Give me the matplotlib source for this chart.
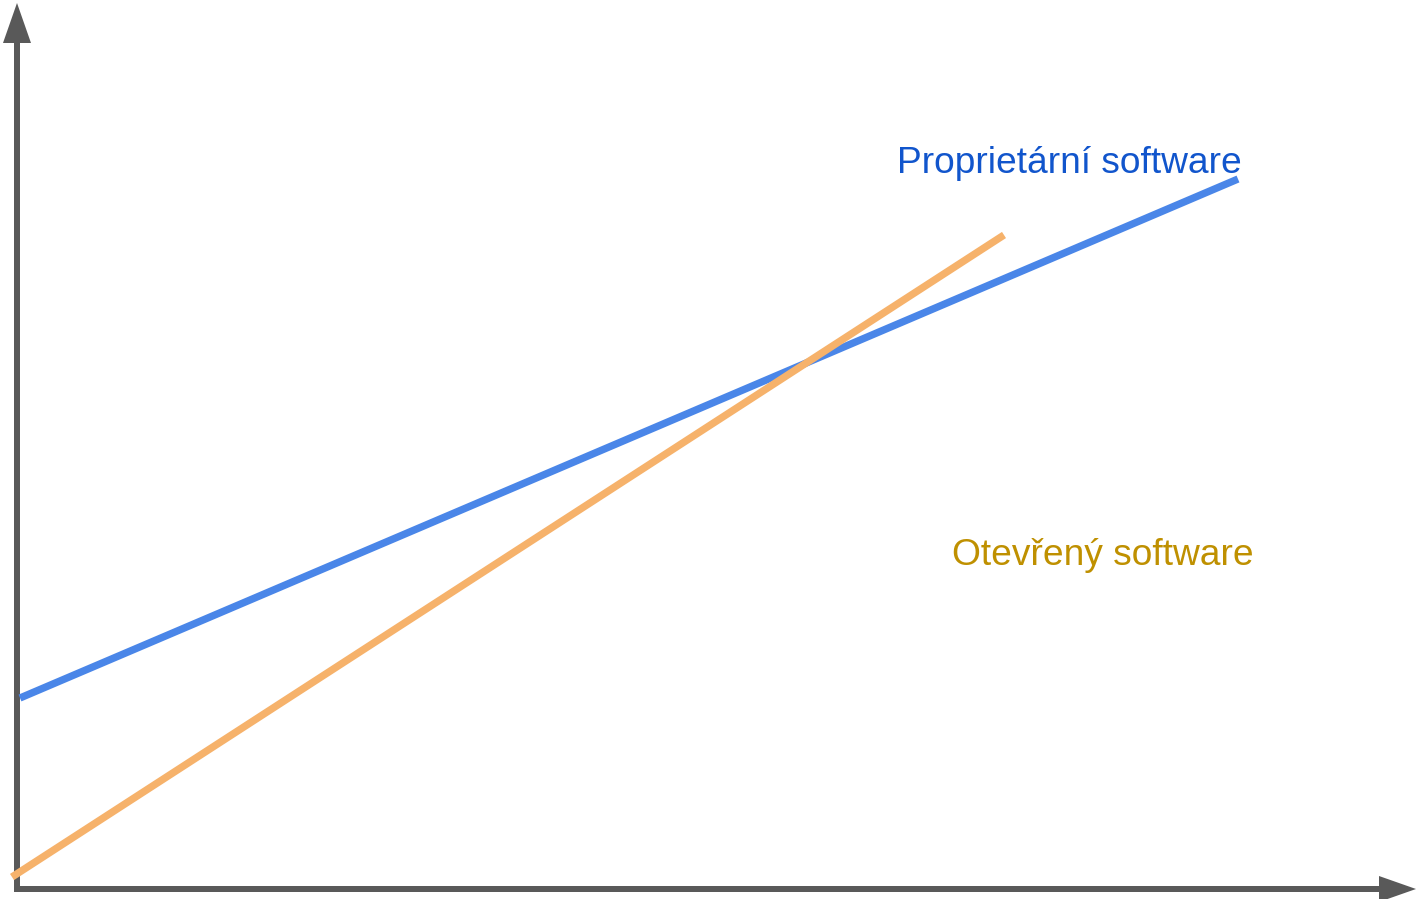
import matplotlib.pyplot as plt

# line endpoints (origin at the corner of the axes)
prop_x = [3, 1221]
prop_y = [191, 710]
open_x = [-5, 987]
open_y = [12, 654]

labels = ["Proprietární software", "Otevřený software"]
label_x = [880, 935]
label_y = [716, 324]

fig = plt.figure(figsize=(14.16, 8.99), dpi=100)
ax = fig.add_axes([0, 0, 1, 1])
ax.set_xlim(-17, 1399)
ax.set_ylim(-10, 889)
ax.axis("off")

gray = "#595959"
# axes with arrows
ax.arrow(0, -3, 0, 889, width=6, head_width=28, head_length=40,
         length_includes_head=True, color=gray, linewidth=0)
ax.arrow(-3, 0, 1402, 0, width=6, head_width=26, head_length=37,
         length_includes_head=True, color=gray, linewidth=0)

ax.plot(prop_x, prop_y, color="#4a86e8", lw=5.3, solid_capstyle="butt")
ax.plot(open_x, open_y, color="#f6b26b", lw=5.3, solid_capstyle="butt")

ax.text(label_x[0], label_y[0], labels[0], color="#1155cc", fontsize=26.7,
        family="Liberation Sans", va="baseline")
ax.text(label_x[1], label_y[1], labels[1], color="#bf9000", fontsize=26.7,
        family="Liberation Sans", va="baseline")

fig.savefig("out.png", dpi=100)
